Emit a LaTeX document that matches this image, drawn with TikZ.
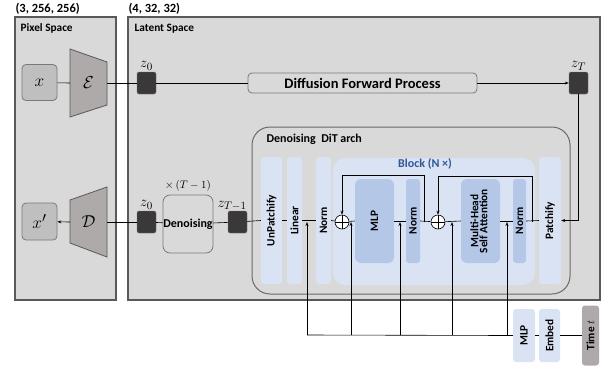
\documentclass[tikz,border=0pt]{standalone}
\usepackage{fontspec}
\setmainfont{Carlito}
\usepackage{amsmath}
\usetikzlibrary{arrows.meta}
\definecolor{panelGray}{HTML}{D9D9D9}
\definecolor{edgeGray}{HTML}{595959}
\definecolor{boxGray}{HTML}{BFBFBF}
\definecolor{trapGray}{HTML}{AEAAAA}
\definecolor{latentDark}{HTML}{3A3838}
\definecolor{lightBlue}{HTML}{DAE3F3}
\definecolor{midBlue}{HTML}{B4C7E7}
\definecolor{blockBlue}{HTML}{2F5597}
\newcommand\colH{127}
\newcommand\innerH{84}
\newcommand\flowY{222}
\newcommand\condY{335}
\newcommand\lblFont{\bfseries\fontsize{11.3}{12}\selectfont}
\newcommand\mathFont{\fontsize{15}{16}\selectfont}
\newcommand\bigMath{\fontsize{19}{20}\selectfont}
\tikzset{
    panel/.style={draw=edgeGray, fill=panelGray, line width=1.1pt},
    inbox/.style={draw=edgeGray!80, fill=boxGray, rounded corners=4, minimum width=35, minimum height=36, line width=0.8pt, inner sep=0, font=\bigMath},
    trap/.style={draw=edgeGray, fill=trapGray, line width=0.8pt},
    latent/.style={fill=latentDark, draw=latentDark!70, rounded corners=2, minimum width=19, minimum height=22, inner sep=0},
    proc/.style={draw=edgeGray!80, fill=panelGray, rounded corners=4, line width=0.8pt, inner sep=0, font=\lblFont},
    col/.style={fill=lightBlue, rounded corners=3, minimum height=\colH, inner sep=0, font=\lblFont},
    blk/.style={fill=midBlue, rounded corners=3, minimum height=\innerH, inner sep=0, font=\lblFont},
    plus/.style={circle, draw, fill=white, minimum size=14, inner sep=0, line width=0.6pt,
        path picture={\draw[line width=0.6pt] (path picture bounding box.north) -- (path picture bounding box.south)
            (path picture bounding box.west) -- (path picture bounding box.east);}},
    flow/.style={line width=0.6pt},
    arr/.style={-{Stealth[length=4pt,width=3pt]}, line width=0.6pt}
}

\begin{document}
\begin{tikzpicture}[x=1pt, y=-1pt]
    \useasboundingbox (0,0) rectangle (607,365);

    % spaces
    \draw[panel] (15,17) rectangle (116,300);
    \draw[panel] (128,17) rectangle (600,300);
    \node[anchor=west, font=\bfseries\fontsize{12.5}{13}\selectfont] (dimPix) at (12,9) {(3, 256, 256)};
    \node[anchor=west, font=\bfseries\fontsize{12.5}{13}\selectfont] (dimLat) at (125,9) {(4, 32, 32)};
    \node[anchor=west, font=\lblFont] (pixName) at (17,28) {Pixel Space};
    \node[anchor=west, font=\lblFont] (latName) at (131,29) {Latent Space};

    % encoder / decoder
    \node[inbox] (xin) at (39.5,82.5) {$x$};
    \node[inbox, minimum height=37] (xout) at (39.5,221.5) {$x'$};
    \draw[trap] (70,49) -- (107,62) -- (107,105) -- (70,117) -- cycle;
    \draw[trap] (70,200) -- (107,187) -- (107,257) -- (70,243) -- cycle;
    \node[font=\bigMath] (enc) at (88.5,83) {$\mathcal{E}$};
    \node[font=\bigMath] (dec) at (88.5,222) {$\mathcal{D}$};
    \coordinate (encL) at (70,83);
    \coordinate (encR) at (107,83);
    \coordinate (decL) at (70,222);
    \coordinate (decR) at (107,222);

    % forward process
    \node[latent] (z0a) at (146.5,83) {};
    \node[latent] (zT) at (578.5,83) {};
    \node[font=\mathFont, anchor=south, inner sep=1.5pt] (lz0a) at (z0a.north) {$z_0$};
    \node[font=\mathFont, anchor=south, inner sep=1.5pt] (lzT) at (zT.north) {$z_T$};
    \node[proc, minimum width=229, minimum height=20, font=\bfseries\fontsize{14.5}{15}\selectfont] (dfp) at (362.5,83) {Diffusion Forward Process};

    % reverse process
    \node[latent] (z0b) at (146.5,222) {};
    \node[latent] (ztm) at (237.5,222) {};
    \node[font=\mathFont, anchor=south, inner sep=1.5pt] (lz0b) at (z0b.north) {$z_0$};
    \node[font=\mathFont, anchor=south] (lztm) at (232,214) {$z_{T-1}$};
    \node[proc, minimum width=50, minimum height=58, rounded corners=7, font=\bfseries\fontsize{12}{13}\selectfont] (den) at (188,224) {Denoising};
    \node[font=\fontsize{11}{12}\selectfont] (rep) at (188,186) {$\times\,(T-1)$};

    % DiT
    \node[draw=edgeGray!90, fill=panelGray, rounded corners=18, line width=1pt, minimum width=318, minimum height=167] (dit) at (411,210.5) {};
    \node[anchor=west, font=\bfseries\fontsize{12}{13}\selectfont] (ditName) at (263,139) {Denoising~ DiT arch};
    \node[fill=lightBlue, rounded corners=12, minimum width=202, minimum height=\colH] (block) at (434,221.5) {};
    \node[font=\bfseries\fontsize{12}{13}\selectfont, text=blockBlue] (blockName) at (425,164) {Block (N ×)};
    \node[col, minimum width=21] (unp) at (271.5,220.5) {\rotatebox{90}{UnPatchify}};
    \node[col, minimum width=15] (lin) at (294.5,220.5) {\rotatebox{90}{Linear}};
    \node[col, minimum width=15] (nrmA) at (323.5,220.5) {\rotatebox{90}{Norm}};
    \node[plus] (plusA) at (342,\flowY) {};
    \node[blk, minimum width=39, rounded corners=6] (mlp) at (374.5,221) {\rotatebox{90}{MLP}};
    \node[blk, minimum width=14] (nrmB) at (413,221) {\rotatebox{90}{Norm}};
    \node[plus] (plusB) at (438,\flowY) {};
    \node[blk, minimum width=39, rounded corners=6, align=center] (mhsa) at (480.5,221) {\rotatebox{90}{\begin{tabular}{@{}c@{}}Multi-Head\\[-3pt]Self Attention\end{tabular}}};
    \node[blk, minimum width=13] (nrmC) at (519.5,221) {\rotatebox{90}{Norm}};
    \node[col, minimum width=22] (patch) at (550,220.5) {\rotatebox{90}{Patchify}};

    % time conditioning
    \node[col, minimum width=22, minimum height=53] (cmlp) at (524,335.5) {\rotatebox{90}{MLP}};
    \node[col, minimum width=21, minimum height=53] (emb) at (549.5,335.5) {\rotatebox{90}{Embed}};
    \node[col, fill=trapGray, minimum width=17, minimum height=60] (timet) at (590.5,335.5) {\rotatebox{90}{Time $t$}};

    \draw[flow] (xin) -- (encL);
    \draw[flow] (encR) -- (z0a);
    \draw[flow] (z0a) -- (dfp);
    \draw[arr] (dfp) -- (zT);
    \draw[arr] (zT) |- (patch.east);

    \draw[flow] (patch.west) -- (nrmC.east);
    \draw[flow] (nrmC.west) -- (mhsa.east);
    \draw[flow] (mhsa.west) -- (plusB);
    \draw[flow] (plusB) -- (nrmB.east);
    \draw[flow] (nrmB.west) -- (mlp.east);
    \draw[flow] (mlp.west) -- (plusA);
    \draw[flow] (plusA) -- (nrmA.east);
    \draw[flow] (nrmA.west) -- (lin.east);
    \draw[flow] (lin.west) -- (unp.east);
    \draw[flow] (unp.west) -- (ztm);
    \draw[flow] (ztm) -- (den);
    \draw[flow] (den) -- (z0b);
    \draw[flow] (z0b) -- (decR);
    \draw[arr] (decL) -- (xout);

    \coordinate (skA) at (424,\flowY);
    \coordinate (skB) at (532,\flowY);
    \draw[arr] (skA) -- ++(0,-47) -| (plusA);
    \draw[arr] (skB) -- ++(0,-46) -| (plusB);

    \coordinate (tA) at (307,\condY);
    \coordinate (tB) at (351,\condY);
    \coordinate (tC) at (400,\condY);
    \coordinate (tD) at (452,\condY);
    \coordinate (tE) at (507,\condY);
    \draw[flow] (tA) -- (cmlp.west);
    \draw[flow] (cmlp.east) -- (emb.west);
    \draw[flow] (emb.east) -- (timet.west);
    \foreach \t in {tA,tB,tC,tD,tE}
        \draw[arr] (\t) -- (\t |- plusA);

\end{tikzpicture}
\end{document}
